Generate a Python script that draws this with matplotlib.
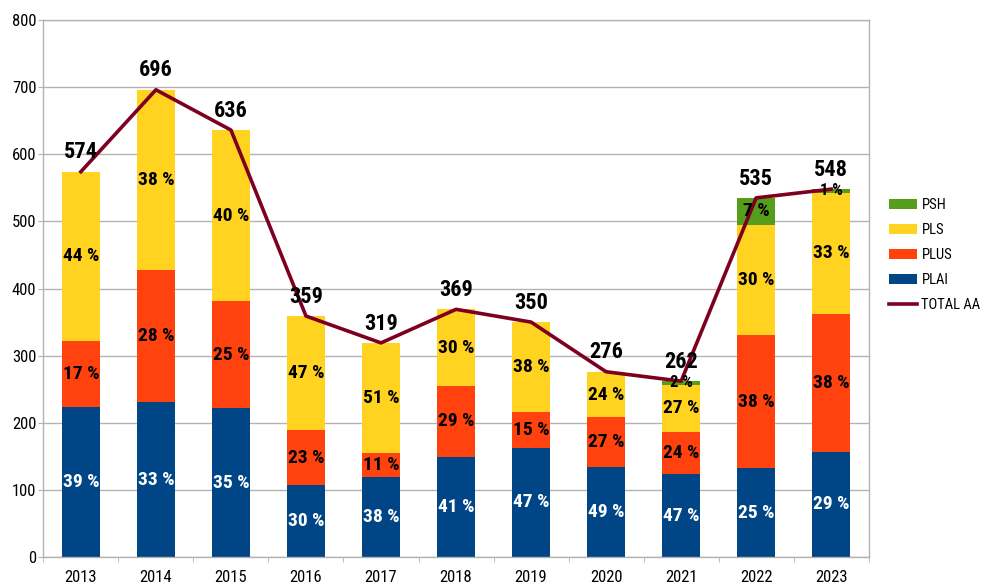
import matplotlib
matplotlib.use("Agg")
import matplotlib.pyplot as plt
import matplotlib.font_manager as fm
import numpy as np

# pick a condensed family that has a real bold face
_cands = ['Liberation Sans Narrow', 'Arial Narrow', 'Roboto Condensed', 'PT Sans Narrow',
          'Fira Sans Condensed', 'Archivo Narrow']
_fam = 'Liberation Sans'
for c in _cands:
    ws = [f.weight for f in fm.fontManager.ttflist if f.name == c]
    ws = [w if isinstance(w, int) else 700 if str(w).lower() == 'bold' else 400 for w in ws]
    if ws and max(ws) >= 700:
        _fam = c
        break
plt.rcParams['font.family'] = [_fam, 'Liberation Sans', 'DejaVu Sans']

years = ["2013", "2014", "2015", "2016", "2017", "2018", "2019", "2020", "2021", "2022", "2023"]
plai = [224, 231, 222, 107, 119, 149, 163, 134, 123, 132, 157]
plus = [98, 196, 159, 82, 36, 106, 53, 74, 63, 199, 205]
pls = [252, 269, 255, 170, 164, 114, 134, 68, 71, 164, 181]
psh = [0, 0, 0, 0, 0, 0, 0, 0, 5, 40, 5]
total = [574, 696, 636, 359, 319, 369, 350, 276, 262, 535, 548]

plai_pct = [39, 33, 35, 30, 38, 41, 47, 49, 47, 25, 29]
plus_pct = [17, 28, 25, 23, 11, 29, 15, 27, 24, 38, 38]
pls_pct = [44, 38, 40, 47, 51, 30, 38, 24, 27, 30, 33]
psh_pct = [None, None, None, None, None, None, None, None, 2, 7, 1]

C_PLAI = "#004586"
C_PLUS = "#ff420e"
C_PLS = "#ffd320"
C_PSH = "#579d1c"
C_LINE = "#7e0021"
GRID = "#b3b3b3"

fig = plt.figure(figsize=(9.86, 5.87), dpi=100)
ax = fig.add_axes([0.044, 0.051, 0.837, 0.915])

x = np.arange(len(years))
w = 0.5
b1 = np.array(plai, float)
b2 = b1 + np.array(plus)
b3 = b2 + np.array(pls)

ax.bar(x, plai, w, color=C_PLAI, label="PLAI", zorder=2)
ax.bar(x, plus, w, bottom=b1, color=C_PLUS, label="PLUS", zorder=2)
ax.bar(x, pls, w, bottom=b2, color=C_PLS, label="PLS", zorder=2)
ax.bar(x, psh, w, bottom=b3, color=C_PSH, label="PSH", zorder=2)
ax.plot(x, total, color=C_LINE, lw=2.6, label="TOTAL AA", zorder=3)

fs = 14
for i in range(len(years)):
    ax.text(x[i], plai[i] / 2, f"{plai_pct[i]} %", ha="center", va="center",
            color="white", fontsize=fs, fontweight="bold", zorder=4)
    ax.text(x[i], b1[i] + plus[i] / 2, f"{plus_pct[i]} %", ha="center", va="center",
            color="black", fontsize=fs, fontweight="bold", zorder=4)
    ax.text(x[i], b2[i] + pls[i] / 2, f"{pls_pct[i]} %", ha="center", va="center",
            color="black", fontsize=fs, fontweight="bold", zorder=4)
    if psh_pct[i] is not None:
        ax.text(x[i], b3[i] + psh[i] / 2, f"{psh_pct[i]} %", ha="center", va="center",
                color="black", fontsize=12 if psh[i] < 20 else fs, fontweight="bold", zorder=4)
    ax.annotate(str(total[i]), (x[i], total[i]), xytext=(0, 6), textcoords="offset points",
                ha="center", va="bottom", fontsize=16, fontweight="bold", zorder=5)

ax.set_xlim(-0.5, len(years) - 0.5)
ax.set_ylim(0, 800)
ax.set_yticks(range(0, 801, 100))
ax.set_xticks(x)
ax.set_xticklabels(years)
ax.set_xticks(np.arange(-0.5, len(years), 1.0), minor=True)
ax.tick_params(axis="x", which="major", length=0, labelsize=12, pad=9)
ax.tick_params(axis="x", which="minor", length=3.5, color=GRID)
ax.tick_params(axis="y", length=3.5, color=GRID, labelsize=12, pad=1.5)
ax.yaxis.grid(True, color=GRID, lw=1, zorder=0)
ax.set_axisbelow(True)
for s in ax.spines.values():
    s.set_color(GRID)
    s.set_linewidth(1)

handles, labels = ax.get_legend_handles_labels()
order = ["PSH", "PLS", "PLUS", "PLAI", "TOTAL AA"]
hmap = dict(zip(labels, handles))
leg = fig.legend([hmap[k] for k in order], order, loc="center left",
                 bbox_to_anchor=(0.902, 0.565), frameon=False, fontsize=10.5,
                 handlelength=1.9, handleheight=0.65, handletextpad=0.3,
                 labelspacing=0.75, borderaxespad=0, borderpad=0)

fig.savefig("out.png", dpi=100)
